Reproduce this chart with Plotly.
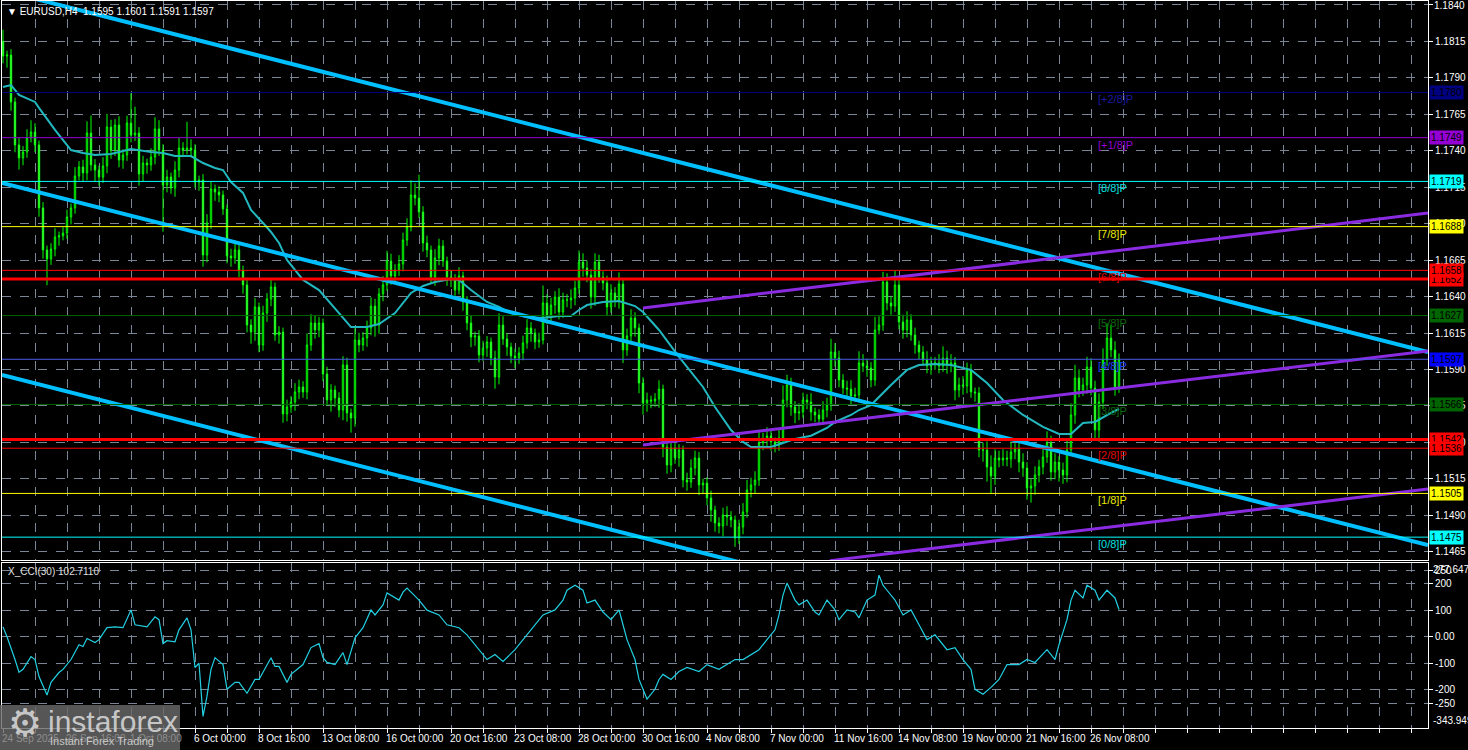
import plotly.graph_objects as go

W, H = 1468, 750

# ---------------- data (EURUSD H4) ----------------
first_open = 1.18150
closes = [
    1.18050, 1.18057, 1.17735, 1.17440, 1.17351, 1.17392, 1.17488, 1.17529, 1.17440, 1.17008,
    1.16720, 1.16658, 1.16726, 1.16809, 1.16816, 1.16836, 1.16946, 1.17008, 1.17227, 1.17289,
    1.17248, 1.17522, 1.17303, 1.17268, 1.17220, 1.17296, 1.17563, 1.17405, 1.17577, 1.17337,
    1.17371, 1.17591, 1.17508, 1.17522, 1.17241, 1.17316, 1.17303, 1.17357, 1.17550, 1.17405,
    1.17165, 1.17220, 1.17145, 1.17268, 1.17419, 1.17405, 1.17419, 1.17405, 1.17186, 1.17200,
    1.16685, 1.16905, 1.17138, 1.17117, 1.17097, 1.17001, 1.16678, 1.16665, 1.16720, 1.16582,
    1.16480, 1.16205, 1.16157, 1.16329, 1.16068, 1.16287, 1.16384, 1.16466, 1.16137, 1.16157,
    1.15595, 1.15643, 1.15677, 1.15746, 1.15780, 1.15746, 1.16068, 1.16219, 1.16171, 1.16219,
    1.15869, 1.15691, 1.15759, 1.15704, 1.15622, 1.15931, 1.15602, 1.15567, 1.16102, 1.16068,
    1.16116, 1.16185, 1.16335, 1.16205, 1.16418, 1.16480, 1.16644, 1.16541, 1.16582, 1.16624,
    1.16788, 1.16877, 1.17097, 1.17076, 1.16980, 1.16768, 1.16720, 1.16534, 1.16665, 1.16747,
    1.16644, 1.16534, 1.16514, 1.16445, 1.16541, 1.16363, 1.16219, 1.16123, 1.16130, 1.15999,
    1.16047, 1.16089, 1.15979, 1.15848, 1.16205, 1.16109, 1.16054, 1.15993, 1.15979, 1.16013,
    1.16082, 1.16185, 1.16150, 1.16089, 1.16102, 1.16356, 1.16260, 1.16342, 1.16397, 1.16294,
    1.16377, 1.16377, 1.16390, 1.16459, 1.16637, 1.16596, 1.16548, 1.16397, 1.16637, 1.16534,
    1.16493, 1.16329, 1.16425, 1.16377, 1.16486, 1.16034, 1.16130, 1.16253, 1.16185, 1.15807,
    1.15670, 1.15691, 1.15684, 1.15698, 1.15766, 1.15368, 1.15245, 1.15362, 1.15293, 1.15348,
    1.15142, 1.15128, 1.15224, 1.15293, 1.15108, 1.15121, 1.15019, 1.14936, 1.14847, 1.14826,
    1.14902, 1.14888, 1.14868, 1.14744, 1.14820, 1.14923, 1.15073, 1.15108, 1.15142, 1.15396,
    1.15416, 1.15444, 1.15403, 1.15382, 1.15430, 1.15691, 1.15794, 1.15643, 1.15602, 1.15608,
    1.15691, 1.15677, 1.15608, 1.15588, 1.15560, 1.15622, 1.15656, 1.16020, 1.15979, 1.15828,
    1.15773, 1.15766, 1.15718, 1.15725, 1.15945, 1.15924, 1.15910, 1.15828, 1.16171, 1.16205,
    1.16500, 1.16356, 1.16335, 1.16480, 1.16226, 1.16171, 1.16239, 1.16137, 1.16068, 1.16020,
    1.15965, 1.15924, 1.15938, 1.15945, 1.15924, 1.15979, 1.15931, 1.15945, 1.15759, 1.15794,
    1.15787, 1.15897, 1.15746, 1.15739, 1.15348, 1.15348, 1.15231, 1.15169, 1.15293, 1.15279,
    1.15293, 1.15286, 1.15334, 1.15355, 1.15265, 1.15224, 1.15087, 1.15101, 1.15176, 1.15231,
    1.15300, 1.15396, 1.15197, 1.15265, 1.15211, 1.15176, 1.15348, 1.15588, 1.15842, 1.15759,
    1.15794, 1.15917, 1.15773, 1.15485, 1.15677, 1.15965, 1.16116, 1.16034, 1.15780, 1.15970,
]
# wick lengths in pips above / below the candle body
upper_wick_pips = [
    8, 3, 4, 3, 5, 4, 6, 8, 6, 3,   4, 3, 4, 6, 3, 4, 5, 3, 6, 4,
    5, 8, 12, 4, 3, 6, 9, 5, 4, 6,  4, 5, 21, 18, 4, 5, 3, 6, 8, 6,
    4, 5, 3, 6, 7, 4, 18, 6, 4, 3,  4, 6, 5, 3, 4, 3, 3, 5, 6, 4,
    3, 5, 4, 6, 3, 5, 4, 5, 3, 4,   3, 5, 4, 6, 5, 4, 8, 6, 5, 4,
    3, 5, 4, 3, 4, 6, 5, 3, 8, 5,   4, 5, 6, 5, 4, 6, 7, 5, 4, 6,
    5, 6, 10, 8, 16, 4, 5, 3, 6, 5, 4, 3, 5, 4, 6, 3, 4, 5, 3, 4,
    5, 4, 3, 5, 8, 6, 4, 3, 5, 4,   5, 6, 4, 3, 5, 12, 6, 5, 4, 6,
    5, 4, 6, 5, 8, 6, 5, 4, 6, 5,   4, 5, 6, 4, 8, 3, 5, 6, 4, 3,
    4, 5, 3, 4, 6, 3, 4, 5, 6, 4,   3, 5, 6, 5, 4, 3, 4, 5, 3, 4,
    5, 6, 4, 3, 5, 6, 7, 5, 6, 8,   5, 6, 4, 3, 6, 10, 7, 5, 4, 6,
    5, 4, 6, 3, 4, 6, 5, 9, 6, 5,   4, 5, 6, 5, 8, 6, 5, 4, 9, 6,
    7, 6, 5, 10, 6, 5, 6, 4, 5, 3,  4, 6, 5, 4, 6, 8, 5, 6, 4, 5,
    6, 5, 4, 3, 4, 5, 6, 8, 6, 5,   6, 5, 7, 4, 5, 6, 4, 5, 6, 5,
    6, 8, 5, 6, 4, 5, 7, 8, 9, 6,   5, 7, 6, 5, 6, 8, 10, 9, 6, 4,
]
lower_wick_pips = [
    5, 8, 6, 5, 8, 5, 4, 3, 5, 6,   6, 18, 4, 5, 6, 3, 4, 5, 4, 3,
    6, 5, 4, 8, 6, 4, 5, 6, 4, 5,   6, 4, 5, 4, 8, 5, 6, 4, 5, 4,
    32, 5, 4, 6, 5, 4, 3, 5, 4, 6,  8, 5, 4, 6, 5, 4, 5, 6, 4, 5,
    6, 5, 8, 6, 5, 4, 6, 5, 4, 6,   6, 5, 4, 6, 5, 4, 5, 4, 6, 5,
    5, 4, 8, 6, 5, 7, 6, 10, 6, 5,  4, 6, 5, 8, 6, 5, 4, 6, 5, 4,
    5, 4, 3, 5, 4, 6, 5, 4, 6, 5,   4, 6, 5, 4, 3, 6, 5, 7, 6, 5,
    4, 6, 5, 8, 5, 4, 6, 5, 7, 4,   5, 4, 6, 5, 4, 3, 5, 4, 6, 5,
    4, 5, 6, 5, 4, 6, 5, 8, 6, 4,   5, 6, 4, 5, 6, 9, 4, 5, 6, 7,
    8, 6, 5, 4, 6, 7, 6, 5, 4, 6,   5, 6, 4, 5, 7, 6, 5, 8, 6, 5,
    7, 6, 5, 6, 4, 5, 4, 5, 6, 4,   5, 4, 6, 5, 4, 3, 5, 6, 7, 5,
    4, 5, 6, 5, 4, 3, 5, 4, 6, 5,   4, 5, 6, 4, 5, 4, 6, 5, 4, 3,
    4, 5, 6, 4, 5, 6, 5, 4, 6, 5,   4, 5, 6, 4, 5, 4, 6, 5, 7, 5,
    6, 5, 4, 6, 5, 8, 10, 12, 6, 5, 4, 5, 6, 5, 7, 6, 8, 10, 6, 5,
    5, 4, 6, 5, 8, 6, 5, 4, 6, 5,   4, 6, 5, 7, 8, 5, 4, 5, 6, 4,
]

# moving average (read as vertices: bar index, price)
ma_bars = [0, 2, 4, 8, 9, 13, 17, 20, 23, 27, 29, 32, 37, 40, 43, 47, 50, 53, 55, 57,
           60, 62, 65, 67, 69, 71, 75, 79, 84, 87, 91, 94, 98, 102, 105, 108, 112, 114, 117, 121,
           124, 127, 131, 135, 139, 142, 144, 146, 150, 154, 158, 160, 164, 169, 175, 178, 182, 185, 187, 192,
           195, 198, 202, 206, 208, 212, 214, 217, 222, 226, 229, 233, 237, 242, 246, 250, 255, 260, 264, 267,
           270, 273, 277, 279]
ma_values = [1.17838, 1.17851, 1.17783, 1.17735, 1.17694, 1.17543, 1.17405, 1.17385, 1.17371, 1.17378,
             1.17392, 1.17412, 1.17392, 1.17385, 1.17364, 1.17364, 1.17316, 1.17282, 1.17268, 1.17186,
             1.17111, 1.16994, 1.16905, 1.16843, 1.16768, 1.16651, 1.16514, 1.16445, 1.16287, 1.16191,
             1.16191, 1.16212, 1.16287, 1.16425, 1.16473, 1.16500, 1.16521, 1.16514, 1.16445, 1.16363,
             1.16329, 1.16287, 1.16260, 1.16253, 1.16267, 1.16267, 1.16308, 1.16342, 1.16363, 1.16370,
             1.16335, 1.16294, 1.16171, 1.15986, 1.15780, 1.15643, 1.15485, 1.15403, 1.15368, 1.15368,
             1.15396, 1.15424, 1.15446, 1.15499, 1.15540, 1.15588, 1.15622, 1.15656, 1.15794, 1.15897,
             1.15931, 1.15938, 1.15931, 1.15897, 1.15807, 1.15691, 1.15588, 1.15506, 1.15458, 1.15458,
             1.15533, 1.15540, 1.15602, 1.15629]

# CCI(30) (vertices: bar index, value)
cci_bars = [0, 1, 3, 4, 5, 7, 8, 9, 11, 12, 14, 15, 17, 19, 20, 21, 23, 24, 26, 28,
            30, 32, 33, 36, 38, 39, 40, 41, 43, 44, 46, 47, 48, 49, 50, 51, 52, 53, 55, 56,
            58, 59, 61, 63, 64, 67, 68, 69, 71, 72, 75, 77, 79, 80, 81, 83, 85, 86, 88, 90,
            92, 93, 95, 96, 99, 100, 101, 104, 106, 109, 111, 114, 116, 119, 121, 123, 125, 128, 130, 133,
            135, 138, 140, 141, 143, 145, 146, 148, 150, 152, 154, 155, 156, 158, 159, 160, 161, 163, 164, 165,
            167, 169, 171, 174, 176, 179, 181, 183, 185, 187, 189, 191, 193, 194, 195, 196, 198, 199, 201, 203,
            204, 206, 208, 209, 211, 213, 214, 216, 218, 219, 220, 221, 223, 225, 227, 229, 231, 233, 234, 236,
            238, 240, 242, 243, 245, 247, 249, 251, 254, 256, 258, 260, 261, 263, 264, 266, 267, 268, 270, 271,
            273, 274, 275, 276, 278, 279]
cci_values = [37, 0, -86, -134, -123, -75, -86, -150, -220, -172, -135, -123, -86, -30, -37, -7, -22, -11, 34, 37,
              34, 101, 45, 37, 75, 64, -26, -15, -19, 26, 71, 26, -116, -100, -300, -224, -123, -79, -105, -198,
              -172, -172, -213, -161, -161, -79, -112, -112, -172, -142, -105, -41, -26, -79, -97, -105, -60, -105, -4, 34,
              101, 82, 120, 165, 138, 168, 183, 138, 100, 82, 45, 34, 7, -49, -86, -67, -93, -49, -11, 45,
              82, 101, 138, 175, 194, 175, 127, 138, 93, 64, 101, 45, -11, -86, -161, -198, -235, -198, -161, -142,
              -161, -131, -116, -131, -105, -123, -105, -86, -86, -67, -49, -11, 26, 82, 157, 202, 138, 120, 138, 93,
              82, 138, 101, 64, 101, 93, 71, 138, 157, 232, 194, 175, 138, 82, 101, 45, -11, 7, -11, -49,
              -41, -86, -123, -198, -217, -191, -161, -105, -105, -86, -97, -67, -49, -86, -30, 64, 138, 175, 146, 194,
              175, 138, 157, 175, 146, 102.711]

time_labels = ["24 Sep 2025", "26 Sep 16:00", "1 Oct 08:00", "6 Oct 00:00", "8 Oct 16:00",
               "13 Oct 08:00", "16 Oct 00:00", "20 Oct 16:00", "23 Oct 08:00", "28 Oct 00:00",
               "30 Oct 16:00", "4 Nov 08:00", "7 Nov 00:00", "11 Nov 16:00", "14 Nov 08:00",
               "19 Nov 00:00", "21 Nov 16:00", "26 Nov 08:00"]
bars_per_label = 16

price_ticks = [1.1465, 1.1490, 1.1515, 1.1540, 1.1565, 1.1590, 1.1615, 1.1640,
               1.1665, 1.1690, 1.1715, 1.1740, 1.1765, 1.1790, 1.1815, 1.1840]
cci_ticks = [250, 200, 100, 0, -100, -200, -250]
cci_tick_text = ["250", "200", "100", "0.00", "-100", "-200", "-250"]
cci_max, cci_min = 277.6479, -343.949

murrey_values = [1.1780, 1.1749, 1.1719, 1.1688, 1.1658, 1.1627, 1.1597, 1.1566, 1.1536, 1.1505, 1.1475]
murrey_names = ["[+2/8]P", "[+1/8]P", "[8/8]P", "[7/8]P", "[6/8]P", "[5/8]P",
                "[4/8]P", "[3/8]P", "[2/8]P", "[1/8]P", "[0/8]P"]
sr_levels = [1.1652, 1.1542]

# regression channel (price at left edge / right edge of window)
channel_left = [1.18500, 1.17179, 1.15862]
channel_right = [1.16020, 1.14696, 1.13379]
# pitchfork-like rising lines
fork_start_bar = [160, 160, 206.75]
fork_start = [1.16322, 1.15382, 1.14589]
fork_end = [1.16973, 1.16027, 1.15080]

title_text = "EURUSD,H4\u00a0\u00a01.1595 1.1601 1.1591 1.1597"
cci_title = "X_CCI(30) 102.7110"

# ---------------- derived ----------------
n = len(closes)
bars = list(range(n))
opens = [first_open] + closes[:-1]
highs = [max(o, c) + u * 0.0001 for o, c, u in zip(opens, closes, upper_wick_pips)]
lows = [min(o, c) - d * 0.0001 for o, c, d in zip(opens, closes, lower_wick_pips)]

X_LEFT, X_RIGHT = -0.25, 356.25
Y_MAIN = [1.145933, 1.184274]

FONT = "Liberation Sans, Arial, sans-serif"
LIME = "#00FF00"
GRID = "#7a8696"
CHAN = "#00BFFF"
FORK = "#8A2BE2"

murrey_colors = ["#000080", "#9400D3", "#00FFFF", "#FFFF00", "#FF0000", "#006400",
                 "#4A5AE8", "#006400", "#FF0000", "#FFFF00", "#00FFFF"]
label_colors = ["#1a1aa0", "#9400D3", "#00E0E0", "#E8E800", "#E00000", "#0a6a0a",
                "#2040FF", "#0a6a0a", "#E00000", "#E8E800", "#00E0E0"]
box_bg = {1.1780: "#000080", 1.1749: "#9400D3", 1.1719: "#00FFFF", 1.1688: "#FFFF00",
          1.1652: "#FF0000", 1.1658: "#FF0000", 1.1627: "#006400", 1.1597: "#0000FF",
          1.1566: "#006400", 1.1542: "#FF0000", 1.1536: "#FF0000", 1.1505: "#FFFF00",
          1.1475: "#00FFFF"}

fig = go.Figure()

fig.add_trace(go.Candlestick(
    x=bars, open=opens, high=highs, low=lows, close=closes,
    xaxis="x", yaxis="y", whiskerwidth=0,
    increasing=dict(line=dict(color=LIME, width=1), fillcolor="#000000"),
    decreasing=dict(line=dict(color=LIME, width=1), fillcolor="#FFFFFF"),
    hoverinfo="skip", showlegend=False))

fig.add_trace(go.Scatter(x=ma_bars, y=ma_values, mode="lines", xaxis="x", yaxis="y",
                         line=dict(color="#22B8C0", width=2), hoverinfo="skip", showlegend=False))

for lv, rv in zip(channel_left, channel_right):
    fig.add_trace(go.Scatter(x=[X_LEFT, X_RIGHT], y=[lv, rv], mode="lines", xaxis="x", yaxis="y",
                             line=dict(color=CHAN, width=4), hoverinfo="skip", showlegend=False))

for sb, sv, ev in zip(fork_start_bar, fork_start, fork_end):
    fig.add_trace(go.Scatter(x=[sb, X_RIGHT], y=[sv, ev], mode="lines", xaxis="x", yaxis="y",
                             line=dict(color=FORK, width=3), hoverinfo="skip", showlegend=False))

fig.add_trace(go.Scatter(x=cci_bars, y=cci_values, mode="lines", xaxis="x2", yaxis="y2",
                         line=dict(color="#22D0E2", width=1.2), hoverinfo="skip", showlegend=False))

shapes = []
for v, col in zip(murrey_values, murrey_colors):
    shapes.append(dict(type="line", xref="x", yref="y", x0=X_LEFT, x1=X_RIGHT, y0=v, y1=v,
                       line=dict(color=col, width=1), layer="above"))
for v in sr_levels:
    shapes.append(dict(type="line", xref="x", yref="y", x0=X_LEFT, x1=X_RIGHT, y0=v, y1=v,
                       line=dict(color="#FF0000", width=3), layer="above"))
# watermark panel
shapes.append(dict(type="rect", xref="paper", yref="paper", x0=0, x1=180 / W, y0=0, y1=1 - 705 / H,
                   fillcolor="rgba(105,105,105,0.82)", line=dict(width=0), layer="above"))

ann = []
fs = 10
# murrey labels
label_bar = 273.25
for v, name, col in zip(murrey_values, murrey_names, label_colors):
    ann.append(dict(xref="x", yref="y", x=label_bar, y=v, text=name, showarrow=False,
                    xanchor="left", yanchor="middle", yshift=-7,
                    font=dict(family=FONT, size=11, color=col)))
# top price label (the axis hides the label sitting on the edge)
ann.append(dict(xref="paper", yref="y", x=1432 / W, y=price_ticks[-1], text=f"{price_ticks[-1]:.4f}",
                showarrow=False, xanchor="left", yanchor="middle", yshift=-1,
                font=dict(family=FONT, size=fs, color="#FFFFFF")))
# right side price boxes (draw 1.1652 before 1.1658 so it's partly hidden)
box_order = [1.1780, 1.1749, 1.1719, 1.1688, 1.1652, 1.1658, 1.1627, 1.1597,
             1.1566, 1.1542, 1.1536, 1.1505, 1.1475]
for v in box_order:
    ann.append(dict(xref="paper", yref="y", x=1429 / W, y=v, text=f"{v:.4f}", showarrow=False,
                    xanchor="left", yanchor="middle", bgcolor=box_bg[v], borderpad=1,
                    font=dict(family=FONT, size=fs, color="#000000")))
# time labels
for i, t in enumerate(time_labels):
    b = i * bars_per_label
    col = "#8e8e8e" if b < 45 else "#FFFFFF"
    ann.append(dict(xref="x2", yref="paper", x=b, y=1 - 738 / H, text=t, showarrow=False,
                    xanchor="left", yanchor="middle", xshift=-3,
                    font=dict(family=FONT, size=fs, color=col)))
# cci extreme labels
ann.append(dict(xref="paper", yref="y2", x=1431 / W, y=cci_max, text=f"{cci_max:.4f}",
                showarrow=False, xanchor="left", yanchor="top", yshift=1,
                font=dict(family=FONT, size=fs, color="#FFFFFF")))
ann.append(dict(xref="paper", yref="y2", x=1431 / W, y=cci_min, text=f"{cci_min:.3f}",
                showarrow=False, xanchor="left", yanchor="bottom",
                font=dict(family=FONT, size=fs, color="#FFFFFF")))
# titles
ann.append(dict(xref="paper", yref="paper", x=5 / W, y=1 - 11 / H, text="\u25bc " + title_text,
                showarrow=False, xanchor="left", yanchor="middle",
                font=dict(family=FONT, size=fs, color="#FFFFFF")))
ann.append(dict(xref="paper", yref="paper", x=6 / W, y=1 - 571 / H, text=cci_title,
                showarrow=False, xanchor="left", yanchor="middle",
                font=dict(family=FONT, size=fs, color="#E0E0E0")))
# watermark texts
ann.append(dict(xref="paper", yref="paper", x=25 / W, y=1 - 723 / H, text="\u2699",
                showarrow=False, xanchor="center", yanchor="middle",
                font=dict(family="DejaVu Sans", size=38, color="rgba(215,215,215,0.9)")))
ann.append(dict(xref="paper", yref="paper", x=46 / W, y=1 - 721 / H, text="instaforex",
                showarrow=False, xanchor="left", yanchor="middle",
                font=dict(family=FONT, size=30, color="rgba(215,215,215,0.9)")))
ann.append(dict(xref="paper", yref="paper", x=48 / W, y=1 - 741 / H, text="Instant Forex Trading",
                showarrow=False, xanchor="left", yanchor="middle",
                font=dict(family=FONT, size=11, color="rgba(215,215,215,0.9)")))

grid_vals = list(range(0, 357, 8))
xdom = [2 / W, 1428 / W]
common_x = dict(range=[X_LEFT, X_RIGHT], domain=xdom, tickmode="array", tickvals=grid_vals,
                showgrid=True, gridcolor=GRID, griddash="dash", gridwidth=1,
                showline=True, linecolor="#FFFFFF", linewidth=1, mirror=True,
                zeroline=False, showticklabels=False, fixedrange=True)

fig.update_layout(
    width=W, height=H, autosize=False,
    margin=dict(l=0, r=0, t=0, b=0, pad=0),
    paper_bgcolor="#000000", plot_bgcolor="#000000",
    showlegend=False, hovermode=False, boxgap=0.5,
    xaxis=dict(anchor="y", ticks="", rangeslider=dict(visible=False), **common_x),
    xaxis2=dict(anchor="y2", matches="x", ticks="outside", ticklen=4, tickcolor="#FFFFFF",
                rangeslider=dict(visible=False), **common_x),
    yaxis=dict(domain=[1 - 560 / H, 1 - 1 / H], range=Y_MAIN, anchor="x", side="right",
               tickmode="array", tickvals=price_ticks, ticktext=[f"{v:.4f}" for v in price_ticks],
               ticks="outside", ticklen=4, tickcolor="#FFFFFF",
               tickfont=dict(family=FONT, size=fs, color="#FFFFFF"),
               showgrid=True, gridcolor=GRID, griddash="dash",
               showline=True, linecolor="#FFFFFF", mirror=True, zeroline=False, fixedrange=True),
    yaxis2=dict(domain=[1 - 728 / H, 1 - 563 / H], range=[cci_min, cci_max], anchor="x2", side="right",
                tickmode="array", tickvals=cci_ticks, ticktext=cci_tick_text,
                ticks="outside", ticklen=4, tickcolor="#FFFFFF",
                tickfont=dict(family=FONT, size=fs, color="#FFFFFF"),
                showgrid=True, gridcolor=GRID, griddash="dash",
                showline=True, linecolor="#FFFFFF", mirror=True, zeroline=False, fixedrange=True),
    shapes=shapes,
    annotations=ann,
)

fig.write_html(
    "out.html",
    config={"displayModeBar": False, "staticPlot": True},
    post_script="document.body.style.margin='0';document.body.style.overflow='hidden';"
                "document.body.style.background='#000';",
)
